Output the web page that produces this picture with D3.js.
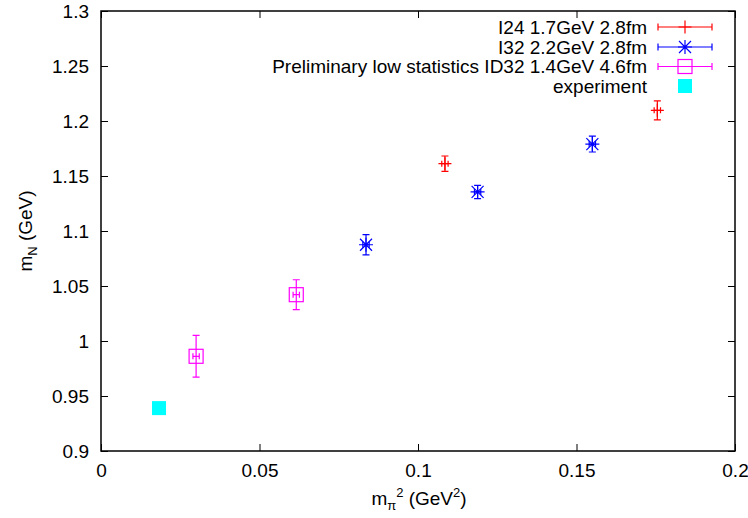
<!DOCTYPE html>
<html><head><meta charset="utf-8">
<script src="https://cdn.jsdelivr.net/npm/d3@7"></script>
<style>
body{margin:0;background:#fff;}
text{font-family:"Liberation Sans",Arial,Helvetica,sans-serif;}
</style></head>
<body><svg id="c" width="748" height="518"></svg>
<script>
// Data
const seriesNames = ["I24 1.7GeV 2.8fm","I32 2.2GeV 2.8fm","Preliminary low statistics ID32 1.4GeV 4.6fm","experiment"];
const seriesColors = ["#ff0000","#0000ff","#ff00ff","#00ffff"];
const i24X = [0.1085, 0.1755];
const i24Y = [1.1612, 1.2097];
const i24Err = [0.0070, 0.0086];
const i32X = [0.0836, 0.1188, 0.1550];
const i32Y = [1.0875, 1.1355, 1.1790];
const i32Err = [0.0092, 0.0060, 0.0072];
const id32X = [0.0300, 0.0616];
const id32Y = [0.9861, 1.0421];
const id32Err = [0.0190, 0.0136];
const expX = [0.0183];
const expY = [0.9390];
const xErr = 0.001;
const xTicks = [0, 0.05, 0.1, 0.15, 0.2];
const yTicks = [0.9, 0.95, 1, 1.05, 1.1, 1.15, 1.2, 1.25, 1.3];

const FS = 19, SFS = 13;
const svg = d3.select("#c");
const L = 101, R = 735, T = 11, B = 451;
const x = d3.scaleLinear().domain([0, 0.2]).range([L, R]);
const y = d3.scaleLinear().domain([0.9, 1.3]).range([B, T]);

// axes with inner ticks
const fmt = d => String(+d.toFixed(2));
const gx = svg.append("g").attr("transform", `translate(0,${B})`)
  .call(d3.axisBottom(x).tickValues(xTicks).tickFormat(fmt).tickSizeInner(-7).tickSizeOuter(0).tickPadding(13));
const gy = svg.append("g").attr("transform", `translate(${L},0)`)
  .call(d3.axisLeft(y).tickValues(yTicks).tickFormat(fmt).tickSizeInner(-7).tickSizeOuter(0).tickPadding(12));
const gx2 = svg.append("g").attr("transform", `translate(0,${T})`)
  .call(d3.axisTop(x).tickValues(xTicks).tickFormat("").tickSizeInner(-7).tickSizeOuter(0));
const gy2 = svg.append("g").attr("transform", `translate(${R},0)`)
  .call(d3.axisRight(y).tickValues(yTicks).tickFormat("").tickSizeInner(-7).tickSizeOuter(0));
[gx,gy,gx2,gy2].forEach(g=>{
  g.select(".domain").remove();
  g.selectAll("line").attr("stroke","#000").attr("stroke-width",1);
  g.selectAll("text").attr("font-size",FS).attr("fill","#000").style("font-family","'Liberation Sans',Arial,sans-serif");
});
svg.append("rect").attr("x",L).attr("y",T).attr("width",R-L).attr("height",B-T)
  .attr("fill","none").attr("stroke","#000").attr("stroke-width",1.5);

// axis titles
const yl = svg.append("text").attr("transform","translate(32,231) rotate(-90)")
  .attr("text-anchor","middle").attr("font-size",FS);
yl.append("tspan").text("m");
yl.append("tspan").attr("font-size",SFS).attr("dy",5).text("N");
yl.append("tspan").attr("dy",-5).text(" (GeV)");

const xl = svg.append("text").attr("x",419).attr("y",505).attr("text-anchor","middle").attr("font-size",FS);
xl.append("tspan").text("m");
xl.append("tspan").attr("font-size",SFS).attr("dy",5).text("π");
xl.append("tspan").attr("font-size",SFS).attr("dy",-13).text("2");
xl.append("tspan").attr("dy",8).text(" (GeV");
xl.append("tspan").attr("font-size",SFS).attr("dy",-8).text("2");
xl.append("tspan").attr("dy",8).text(")");

const plot = svg.append("g");

function errbars(g, xs, ys, es, col){
  xs.forEach((xv,i)=>{
    const px = x(xv), py = y(ys[i]), t = y(ys[i]+es[i]), b = y(ys[i]-es[i]);
    const xa = x(xv - xErr), xb = x(xv + xErr);
    const p = d3.path();
    p.moveTo(px,t); p.lineTo(px,b);
    p.moveTo(px-3.5,t); p.lineTo(px+3.5,t);
    p.moveTo(px-3.5,b); p.lineTo(px+3.5,b);
    p.moveTo(xa,py); p.lineTo(xb,py);
    p.moveTo(xa,py-3); p.lineTo(xa,py+3);
    p.moveTo(xb,py-3); p.lineTo(xb,py+3);
    g.append("path").attr("d",p.toString()).attr("stroke",col).attr("stroke-width",1.2).attr("fill","none");
  });
}
function plus(g, px, py, col){
  const p = d3.path();
  p.moveTo(px-6.5,py); p.lineTo(px+6.5,py);
  p.moveTo(px,py-6.5); p.lineTo(px,py+6.5);
  g.append("path").attr("d",p.toString()).attr("stroke",col).attr("stroke-width",1.2).attr("fill","none");
}
function star(g, px, py, col){
  const p = d3.path(); const s = 7, d = 6;
  p.moveTo(px-s,py); p.lineTo(px+s,py);
  p.moveTo(px,py-s); p.lineTo(px,py+s);
  p.moveTo(px-d,py-d); p.lineTo(px+d,py+d);
  p.moveTo(px-d,py+d); p.lineTo(px+d,py-d);
  g.append("path").attr("d",p.toString()).attr("stroke",col).attr("stroke-width",1.2).attr("fill","none");
}
function box(g, px, py, col){
  g.append("rect").attr("x",px-7).attr("y",py-7).attr("width",14).attr("height",14)
    .attr("fill","none").attr("stroke",col).attr("stroke-width",1.2);
}

errbars(plot, i24X, i24Y, i24Err, seriesColors[0]);
i24X.forEach((v,i)=>plus(plot, x(v), y(i24Y[i]), seriesColors[0]));
errbars(plot, i32X, i32Y, i32Err, seriesColors[1]);
i32X.forEach((v,i)=>star(plot, x(v), y(i32Y[i]), seriesColors[1]));
errbars(plot, id32X, id32Y, id32Err, seriesColors[2]);
id32X.forEach((v,i)=>box(plot, x(v), y(id32Y[i]), seriesColors[2]));
expX.forEach((v,i)=>plot.append("rect").attr("x",x(v)-7).attr("y",y(expY[i])-7)
  .attr("width",14).attr("height",14).attr("fill",seriesColors[3]));

// legend
const legY = [27, 47, 66.5, 86];
const markers = [plus, star, box];
seriesNames.forEach((n,i)=>{
  svg.append("text").attr("x",647).attr("y",legY[i]).attr("dy","0.35em")
    .attr("text-anchor","end").attr("font-size",FS).text(n);
  const cx = 685, cy = legY[i], col = seriesColors[i];
  if(i<3){
    const p = d3.path();
    p.moveTo(658,cy); p.lineTo(712,cy);
    p.moveTo(658,cy-3.5); p.lineTo(658,cy+3.5);
    p.moveTo(712,cy-3.5); p.lineTo(712,cy+3.5);
    svg.append("path").attr("d",p.toString()).attr("stroke",col).attr("stroke-width",1.2).attr("fill","none");
    markers[i](svg, cx, cy, col);
  } else {
    svg.append("rect").attr("x",cx-7).attr("y",cy-7).attr("width",14).attr("height",14).attr("fill",col);
  }
});
</script></body></html>
